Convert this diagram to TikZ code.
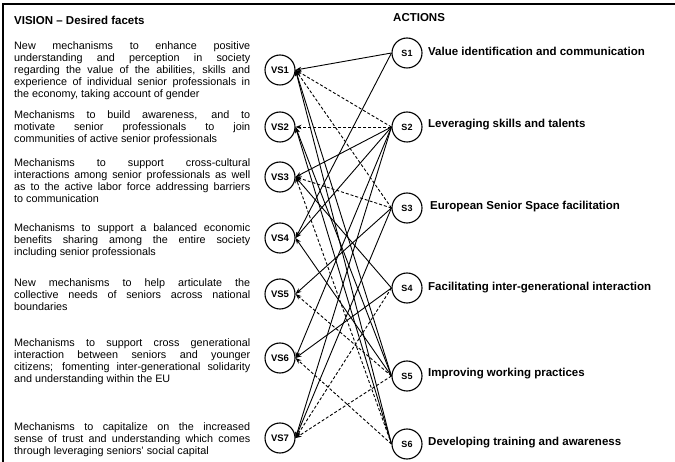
\documentclass[tikz,border=0pt]{standalone}
\usepackage{fontspec}
\setmainfont{Liberation Sans}
\usetikzlibrary{arrows.meta}
\hyphenpenalty=10000
\exhyphenpenalty=10000
\begin{document}
\begin{tikzpicture}[x=1pt,y=-1pt,
  vs/.style={circle, draw, line width=1.1pt, minimum size=30pt, inner sep=0pt, font=\fontsize{9.5}{10}\selectfont\bfseries},
  sn/.style={circle, draw, line width=1.1pt, minimum size=30pt, inner sep=0pt, font=\fontsize{9}{10}\selectfont\bfseries},
  desc/.style={anchor=north west, inner sep=0pt, text width=236pt, align=justify,
    font=\fontsize{10.8}{12}\selectfont},
  head/.style={anchor=west, inner sep=0pt, font=\fontsize{11.5}{12}\selectfont\bfseries},
  act/.style={anchor=west, inner sep=0pt, font=\fontsize{11.5}{13}\selectfont\bfseries},
  link/.style={line width=0.9pt, -{Stealth[length=6pt,width=4.5pt]}},
  dlink/.style={link, dash pattern=on 3pt off 2pt}
]
\useasboundingbox (0,0) rectangle (675,462);
\fill[white] (0,0) rectangle (675,462);
\draw[line width=2pt] (3,462) -- (3,4) -- (675,4);

\node[head] (hv) at (14,20) {VISION -- Desired facets};
\node[head] (ha) at (393,18) {ACTIONS};

\node[desc] (d1) at (14,41.5) {New mechanisms to enhance positive\linebreak understanding and perception in society\linebreak regarding the value of the abilities, skills and\linebreak experience of individual senior professionals in\linebreak the economy, taking account of gender};
\node[desc] (d2) at (14,110.5) {Mechanisms to build awareness, and to\linebreak motivate senior professionals to join\linebreak communities of active senior professionals};
\node[desc] (d3) at (14,158.5) {Mechanisms to support cross-cultural\linebreak interactions among senior professionals as well\linebreak as to the active labor force addressing barriers\linebreak to communication};
\node[desc] (d4) at (14,223.5) {Mechanisms to support a balanced economic\linebreak benefits sharing among the entire society\linebreak including senior professionals};
\node[desc] (d5) at (14,278.5) {New mechanisms to help articulate the\linebreak collective needs of seniors across national\linebreak boundaries};
\node[desc] (d6) at (14,338.5) {Mechanisms to support cross generational\linebreak interaction between seniors and younger\linebreak citizens; fomenting inter-generational solidarity\linebreak and understanding within the EU};
\node[desc] (d7) at (14,422.5) {Mechanisms to capitalize on the increased\linebreak sense of trust and understanding which comes\linebreak through leveraging seniors' social capital};

\node[vs] (VS1) at (280,70) {VS1};
\node[vs] (VS2) at (280,127) {VS2};
\node[vs] (VS3) at (280,177) {VS3};
\node[vs] (VS4) at (280,238) {VS4};
\node[vs] (VS5) at (280,294) {VS5};
\node[vs] (VS6) at (280,358) {VS6};
\node[vs] (VS7) at (280,438) {VS7};

\node[sn] (S1) at (407,53) {S1};
\node[sn] (S2) at (407,127) {S2};
\node[sn] (S3) at (407,208) {S3};
\node[sn] (S4) at (407,288) {S4};
\node[sn] (S5) at (407,376) {S5};
\node[sn] (S6) at (407,444) {S6};

\node[act] (a1) at (428,51) {Value identification  and communication};
\node[act] (a2) at (428,125) {Leveraging skills and talents};
\node[act] (a3) at (430,207) {European Senior Space facilitation};
\node[act] (a4) at (428,288) {Facilitating inter-generational interaction};
\node[act] (a5) at (428,374) {Improving working practices};
\node[act] (a6) at (428,443) {Developing training and awareness};

\draw[link] (S1.west) -- (VS1.east);
\draw[link] (S1.west) -- (VS4.east);
\draw[dlink] (S2.west) -- (VS1.east);
\draw[dlink] (S2.west) -- (VS2.east);
\draw[link] (S2.west) -- (VS3.east);
\draw[link] (S2.west) -- (VS4.east);
\draw[link] (S2.west) -- (VS6.east);
\draw[link] (S2.west) -- (VS7.east);
\draw[dlink] (S3.west) -- (VS1.east);
\draw[dlink] (S3.west) -- (VS3.east);
\draw[link] (S3.west) -- (VS5.east);
\draw[link] (S3.west) -- (VS7.east);
\draw[link] (S4.west) -- (VS3.east);
\draw[link] (S4.west) -- (VS6.east);
\draw[dlink] (S4.west) -- (VS7.east);
\draw[link] (S5.west) -- (VS1.east);
\draw[link] (S5.west) -- (VS2.east);
\draw[link] (S5.west) -- (VS4.east);
\draw[dlink] (S5.west) -- (VS5.east);
\draw[dlink] (S5.west) -- (VS7.east);
\draw[link] (S6.west) -- (VS1.east);
\draw[link] (S6.west) -- (VS2.east);
\draw[dlink] (S6.west) -- (VS3.east);
\draw[dlink] (S6.west) -- (VS6.east);
\end{tikzpicture}
\end{document}
